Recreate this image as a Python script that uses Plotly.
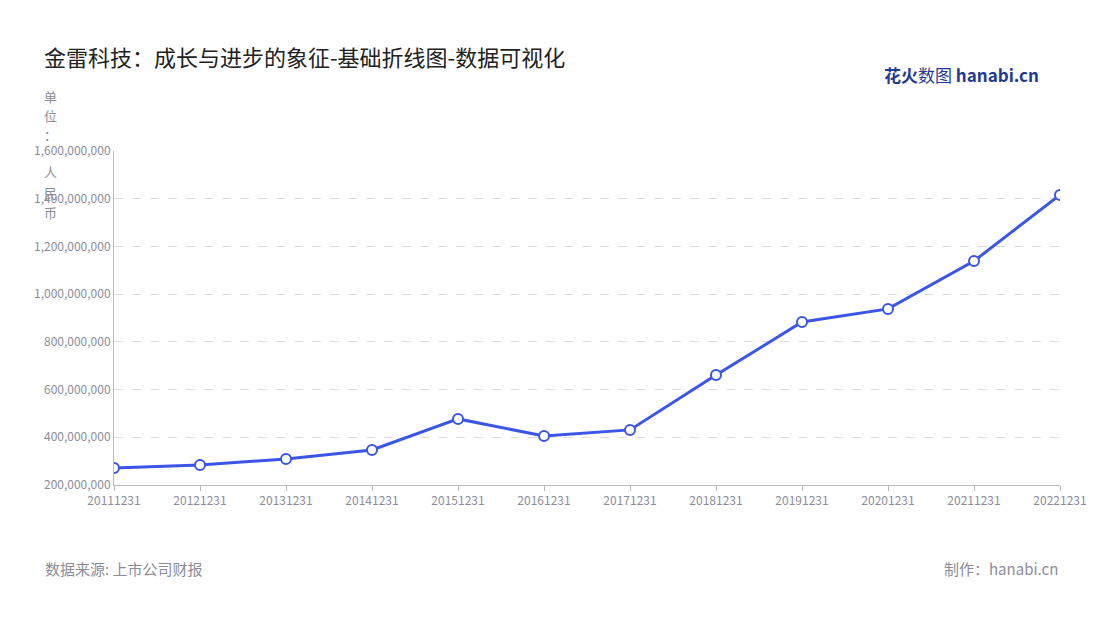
import plotly.graph_objects as go

years = ["20111231", "20121231", "20131231", "20141231", "20151231", "20161231",
         "20171231", "20181231", "20191231", "20201231", "20211231", "20221231"]
revenue = [271e6, 284e6, 309e6, 347e6, 477e6, 405e6,
           431e6, 661e6, 883e6, 938e6, 1139e6, 1416e6]
tick_vals = [200e6, 400e6, 600e6, 800e6, 1000e6, 1200e6, 1400e6, 1600e6]
tick_text = [f"{int(v):,}" for v in tick_vals]
unit_chars = ["单", "位", "：", "人", "民", "币"]
unit_px_y = [95, 114, 133, 170, 191, 211]

FONT = "Noto Sans CJK SC"
GREY = "#8c8c99"

# plot area in page pixels: top 150, bottom 484
def px_to_paper_y(py):
    return (484 - py) / (484 - 150)

fig = go.Figure()
fig.add_trace(go.Scatter(
    x=years, y=revenue, mode="lines+markers",
    line=dict(color="#3b55e6", width=3),
    marker=dict(size=10, color="white", line=dict(color="#3b55e6", width=2)),
    hoverinfo="x+y",
))

fig.update_layout(
    width=1100, height=620,
    paper_bgcolor="white", plot_bgcolor="white",
    margin=dict(l=106, r=48, t=143, b=143),
    showlegend=False,
    font=dict(family=FONT, color=GREY),
    title=dict(text="金雷科技：成长与进步的象征-基础折线图-数据可视化",
               x=0.0327, xanchor="left", y=0.919, yanchor="middle",
               font=dict(size=22, color="#222222", family=FONT)),
    xaxis=dict(type="category", showgrid=False, showline=True, linecolor="#bbbbbb",
               ticks="outside", tickcolor="#bbbbbb", ticklen=5,
               tickfont=dict(size=12, color=GREY), range=[0, 11]),
    yaxis=dict(range=[200e6, 1600e6], tickvals=tick_vals, ticktext=tick_text,
               showgrid=True, gridcolor="#dddddd", griddash="dash",
               showline=True, linecolor="#bbbbbb", zeroline=False,
               tickfont=dict(size=12, color=GREY)),
)

for ch, py in zip(unit_chars, unit_px_y):
    fig.add_annotation(text=ch, xref="paper", yref="paper",
                       x=(50 - 114) / 946, y=px_to_paper_y(py),
                       xanchor="center", yanchor="middle", showarrow=False,
                       font=dict(size=13, color=GREY))
fig.add_annotation(text="数据来源: 上市公司财报", xref="paper", yref="paper",
                   x=-0.075, y=-0.25, xanchor="left", yanchor="middle", showarrow=False,
                   font=dict(size=15, color=GREY))
fig.add_annotation(text="制作：hanabi.cn", xref="paper", yref="paper",
                   x=1.0, y=-0.25, xanchor="right", yanchor="middle", showarrow=False,
                   font=dict(size=15, color=GREY))
fig.add_annotation(text="<b>花火</b>数图 <b>hanabi.cn</b>", xref="paper", yref="paper",
                   x=0.98, y=1.23, xanchor="right", yanchor="middle", showarrow=False,
                   font=dict(size=17, color="#1f3a93"))

fig.write_html("out.html")
